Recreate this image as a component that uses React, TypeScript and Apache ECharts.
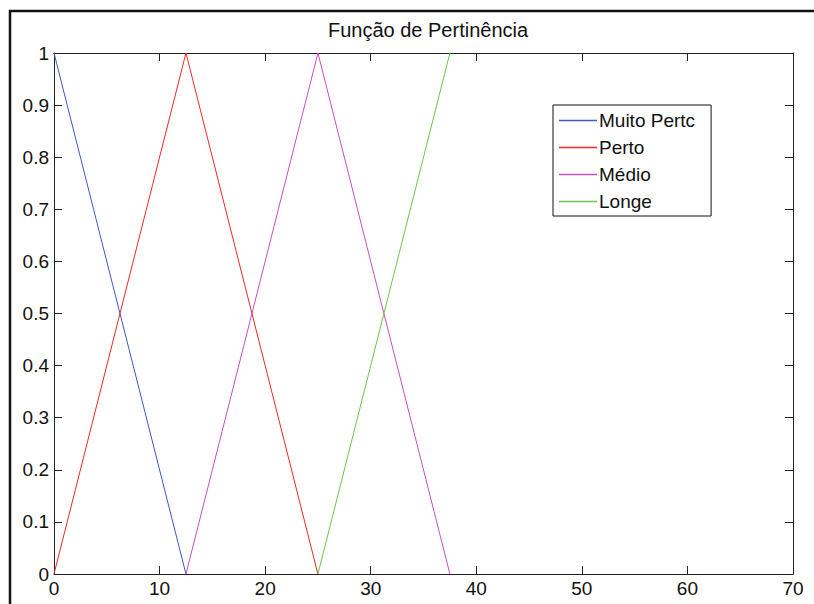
import React, { useEffect, useRef } from "react";
import * as echarts from "echarts";

const titleText = "Função de Pertinência";
const seriesNames = ["Muito Pertc", "Perto", "Médio", "Longe"];
const seriesColors = ["#3c5ac8", "#f02828", "#c850be", "#6ac846"];
const muitoPerto: [number, number][] = [[0, 1], [12.5, 0]];
const perto: [number, number][] = [[0, 0], [12.5, 1], [25, 0]];
const medio: [number, number][] = [[12.5, 0], [25, 1], [37.5, 0]];
const longe: [number, number][] = [[25, 0], [37.5, 1]];
const seriesData = [muitoPerto, perto, medio, longe];

const FONT = "'Liberation Sans', Arial, Helvetica, sans-serif";

export default function App() {
  const ref = useRef<HTMLDivElement>(null);
  useEffect(() => {
    if (!ref.current) return;
    const chart = echarts.init(ref.current, null, { renderer: "svg" });
    const axisLine = { show: true, onZero: false, lineStyle: { color: "#222", width: 1 } };
    const tick = { show: true, inside: true, length: 8, lineStyle: { color: "#222", width: 1 } };
    chart.setOption({
      animation: false,
      backgroundColor: "#fff",
      title: {
        text: titleText,
        left: 423,
        top: 15,
        textAlign: "center",
        textStyle: { fontFamily: FONT, fontSize: 20, fontWeight: "normal", color: "#111" },
      },
      legend: {
        orient: "vertical",
        left: 553,
        top: 105,
        data: seriesNames.map((n) => ({ name: n, icon: "rect" })),
        borderColor: "#111",
        borderWidth: 1,
        borderRadius: 0,
        padding: [6, 16, 5, 6],
        itemWidth: 38,
        itemHeight: 1.5,
        itemGap: 8,
        textStyle: { fontFamily: FONT, fontSize: 19, color: "#111", padding: [0, 0, 0, -3] },
        backgroundColor: "#fff",
      },
      grid: { left: 54, right: 21, top: 53, bottom: 30, containLabel: false },
      xAxis: [
        {
          type: "value",
          min: 0,
          max: 70,
          interval: 10,
          position: "bottom",
          axisLine,
          axisTick: tick,
          splitLine: { show: false },
          axisLabel: { fontFamily: FONT, fontSize: 19, color: "#111", margin: 5 },
        },
        {
          type: "value",
          min: 0,
          max: 70,
          interval: 10,
          position: "top",
          axisLine,
          axisTick: tick,
          splitLine: { show: false },
          axisLabel: { show: false },
        },
      ],
      yAxis: [
        {
          type: "value",
          min: 0,
          max: 1,
          interval: 0.1,
          position: "left",
          axisLine,
          axisTick: tick,
          splitLine: { show: false },
          axisLabel: {
            fontFamily: FONT,
            fontSize: 19,
            color: "#111",
            margin: 5,
            formatter: (v: number) => String(Math.round(v * 10) / 10),
          },
        },
        {
          type: "value",
          min: 0,
          max: 1,
          interval: 0.1,
          position: "right",
          axisLine,
          axisTick: tick,
          splitLine: { show: false },
          axisLabel: { show: false },
        },
      ],
      graphic: [
        {
          type: "rect",
          shape: { x: 10, y: 11, width: 900, height: 800 },
          style: { fill: "none", stroke: "#111", lineWidth: 2.5 },
          silent: true,
          z: 100,
        },
      ],
      series: seriesNames.map((name, i) => ({
        name,
        type: "line",
        data: seriesData[i],
        symbol: "none",
        showSymbol: false,
        lineStyle: { color: seriesColors[i], width: 1 },
        itemStyle: { color: seriesColors[i] },
        xAxisIndex: 0,
        yAxisIndex: 0,
      })),
    });
    return () => chart.dispose();
  }, []);
  return (
    <div
      ref={ref}
      style={{ position: "absolute", left: 0, top: 0, width: 814, height: 604 }}
    />
  );
}
